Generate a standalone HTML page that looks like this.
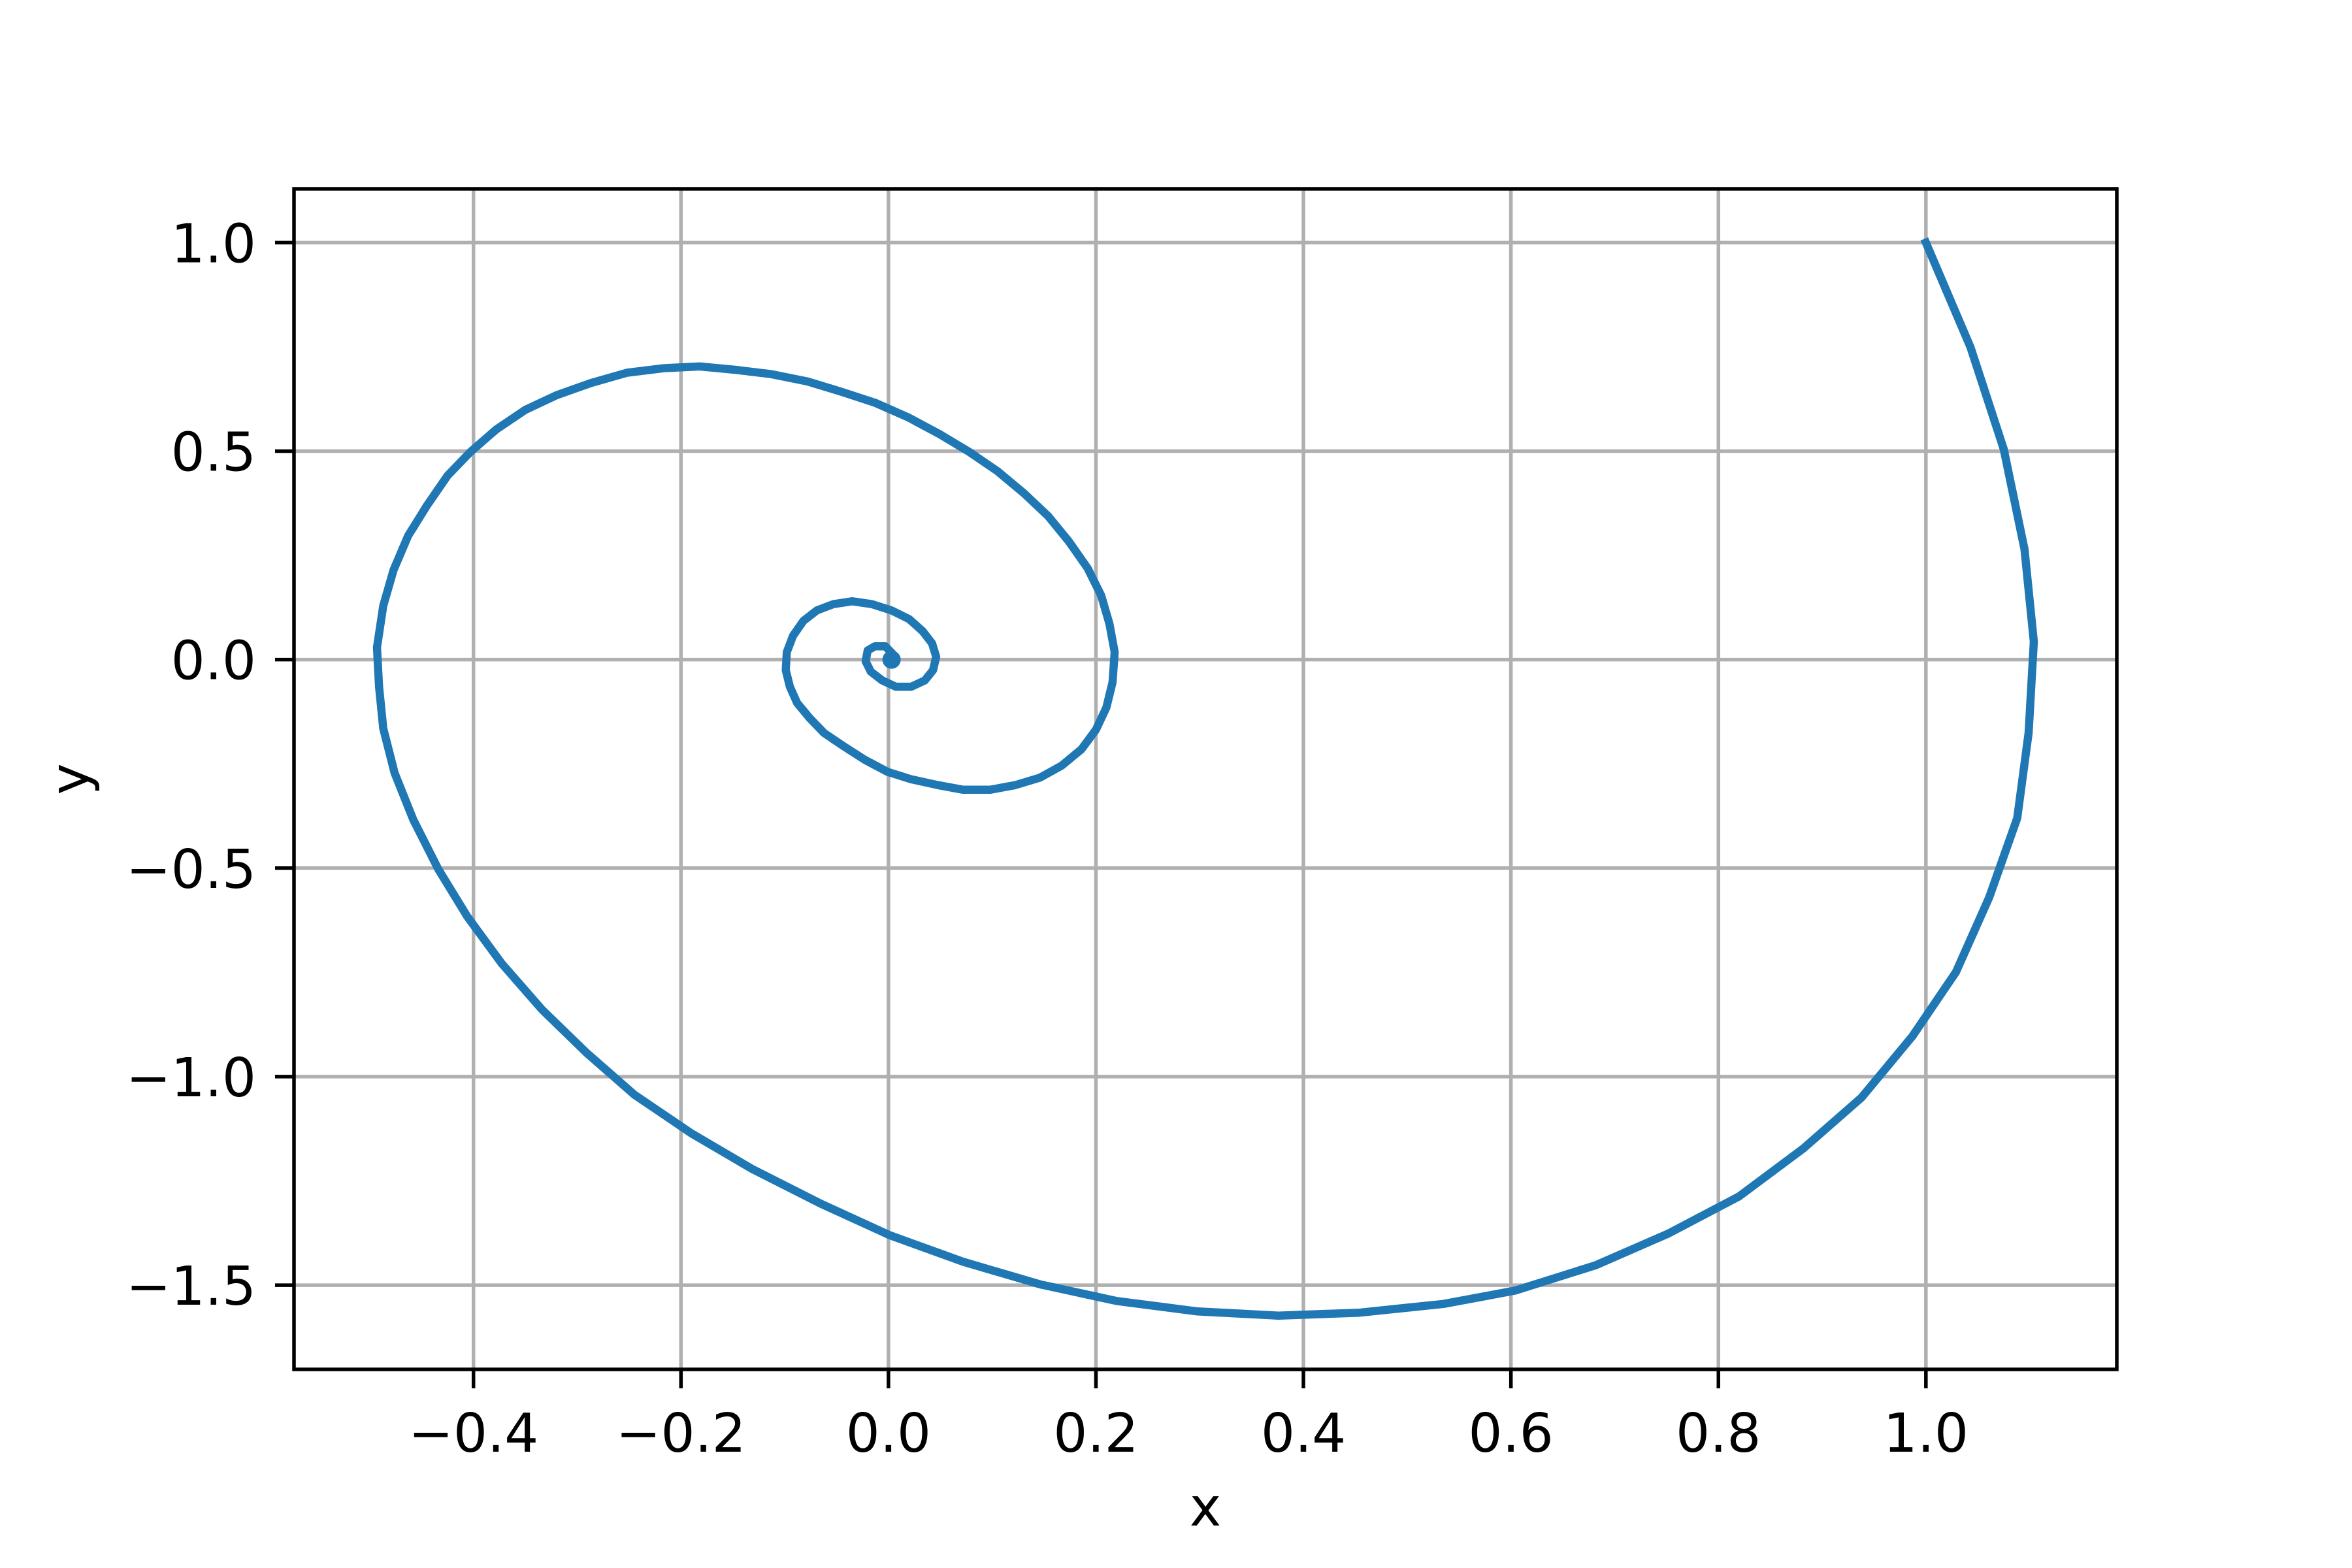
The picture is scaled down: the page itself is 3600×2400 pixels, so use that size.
<!DOCTYPE html>
<html><head><meta charset="utf-8"><style>
html,body{margin:0;padding:0;background:#fff;}
svg{display:block;}
text{font-family:"DejaVu Sans","Liberation Sans",sans-serif;fill:#000;}
</style></head><body>
<svg id="chart" width="3600" height="2400" viewBox="0 0 3600 2400" xmlns="http://www.w3.org/2000/svg">
<rect width="3600" height="2400" fill="#fff"/>
<g id="grid"></g>
<g id="series"></g>
<g id="axes"></g>
</svg>
<script>
const xTicks = [-0.4,-0.2,0.0,0.2,0.4,0.6,0.8,1.0];
const xTickLabels = ["\u22120.4","\u22120.2","0.0","0.2","0.4","0.6","0.8","1.0"];
const yTicks = [1.0,0.5,0.0,-0.5,-1.0,-1.5];
const yTickLabels = ["1.0","0.5","0.0","\u22120.5","\u22121.0","\u22121.5"];
const xValues = [1.0,1.043,1.075,1.095,1.104,1.099,1.088,1.061,1.029,0.987,0.938,0.882,0.820,0.752,0.682,0.604,0.535,0.454,0.376,0.298,0.220,0.146,0.072,0.001,-0.065,-0.131,-0.190,-0.245,-0.291,-0.334,-0.373,-0.406,-0.434,-0.458,-0.476,-0.487,-0.491,-0.493,-0.487,-0.477,-0.463,-0.445,-0.425,-0.403,-0.378,-0.350,-0.320,-0.287,-0.252,-0.216,-0.182,-0.148,-0.114,-0.078,-0.045,-0.013,0.019,0.049,0.078,0.105,0.131,0.154,0.174,0.192,0.205,0.213,0.218,0.216,0.210,0.200,0.186,0.167,0.146,0.122,0.098,0.072,0.048,0.022,-0.001,-0.023,-0.043,-0.062,-0.076,-0.088,-0.095,-0.099,-0.098,-0.092,-0.082,-0.069,-0.053,-0.035,-0.016,0.003,0.020,0.033,0.042,0.046,0.043,0.035,0.022,0.007,-0.006,-0.017,-0.022,-0.020,-0.013,-0.003,0.004,0.004,0.003];
const yValues = [1.0,0.749,0.505,0.265,0.043,-0.176,-0.380,-0.570,-0.749,-0.903,-1.050,-1.172,-1.287,-1.376,-1.452,-1.513,-1.545,-1.566,-1.573,-1.563,-1.538,-1.498,-1.444,-1.380,-1.305,-1.222,-1.136,-1.043,-0.943,-0.839,-0.728,-0.616,-0.502,-0.384,-0.272,-0.165,-0.065,0.029,0.129,0.215,0.297,0.369,0.441,0.498,0.552,0.599,0.634,0.663,0.688,0.699,0.703,0.695,0.685,0.667,0.642,0.616,0.581,0.541,0.498,0.452,0.398,0.344,0.283,0.219,0.154,0.086,0.018,-0.054,-0.115,-0.168,-0.215,-0.254,-0.283,-0.301,-0.312,-0.312,-0.301,-0.287,-0.269,-0.240,-0.208,-0.176,-0.140,-0.104,-0.065,-0.025,0.018,0.057,0.093,0.118,0.133,0.140,0.133,0.118,0.097,0.068,0.039,0.007,-0.025,-0.050,-0.065,-0.065,-0.050,-0.029,-0.004,0.022,0.032,0.032,0.014,-0.004,0.0];

const NS="http://www.w3.org/2000/svg";
const L=450,R=3240,T=289,B=2096;
const xMin=-0.573,xMax=1.184,yMin=-1.702,yMax=1.129;
function sx(v){return L+(v-xMin)/(xMax-xMin)*(R-L);}
function sy(v){return B-(v-yMin)/(yMax-yMin)*(B-T);}
function mk(tag,attrs,parent){const e=document.createElementNS(NS,tag);for(const k in attrs)e.setAttribute(k,attrs[k]);parent.appendChild(e);return e;}
const grid=document.getElementById('grid'),series=document.getElementById('series'),axes=document.getElementById('axes');

xTicks.forEach((v,i)=>{
  const g=mk('line',{x1:sx(v),x2:sx(v),y1:T,y2:B,stroke:'#b0b0b0','stroke-width':5.5},grid);
  
  
  const t=mk('line',{x1:sx(v),x2:sx(v),y1:B,y2:B+29,stroke:'#000','stroke-width':5.5},axes);
  
  
  const lb=mk('text',{x:sx(v),y:B+126,'text-anchor':'middle','font-size':82},axes);
  lb.textContent=xTickLabels[i];
  
  
});
yTicks.forEach((v,i)=>{
  const g=mk('line',{x1:L,x2:R,y1:sy(v),y2:sy(v),stroke:'#b0b0b0','stroke-width':5.5},grid);
  
  
  const t=mk('line',{x1:L-29,x2:L,y1:sy(v),y2:sy(v),stroke:'#000','stroke-width':5.5},axes);
  
  
  const lb=mk('text',{x:L-58,y:sy(v)+30,'text-anchor':'end','font-size':82},axes);
  lb.textContent=yTickLabels[i];
  
  
});
const pts=xValues.map((x,i)=>sx(x).toFixed(1)+','+sy(yValues[i]).toFixed(1)).join(' ');
const line=mk('polyline',{points:pts,fill:'none',stroke:'#1f77b4','stroke-width':12.5,'stroke-linejoin':'round','stroke-linecap':'square'},series);


const dot=mk('circle',{cx:sx(xValues[xValues.length-1]),cy:sy(yValues[yValues.length-1]),r:14,fill:'#1f77b4'},series);


const fr=mk('rect',{x:L,y:T,width:R-L,height:B-T,fill:'none',stroke:'#000','stroke-width':5.5},axes);


const xl=mk('text',{x:(L+R)/2,y:2335,'text-anchor':'middle','font-size':82},axes);
xl.textContent='x';


const yl=mk('text',{x:0,y:0,'text-anchor':'middle','font-size':82,transform:'translate(135,'+((T+B)/2)+') rotate(-90)'},axes);
yl.textContent='y';


</script>
</body></html>
